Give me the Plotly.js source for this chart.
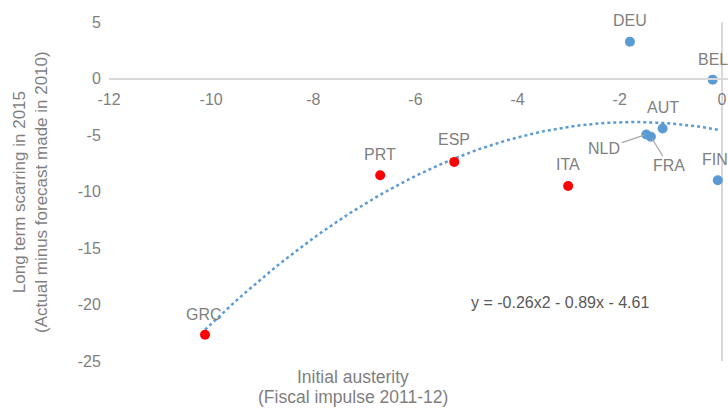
<!DOCTYPE html>
<html>
<head>
<meta charset="utf-8">
<script src="https://cdn.plot.ly/plotly-3.0.1.min.js"></script>
<style>html,body{margin:0;padding:0;background:#fff;}#chart{width:728px;height:408px;}</style>
</head>
<body>
<div id="chart"></div>
<script>
// Core (blue) countries
var blueCountries = ["DEU", "BEL", "AUT", "NLD", "FRA", "FIN"];
var blueX = [-1.80, -0.18, -1.16, -1.48, -1.39, -0.08];
var blueY = [3.25, -0.10, -4.42, -4.95, -5.16, -9.00];

// Periphery (red) countries
var redCountries = ["GRC", "PRT", "ESP", "ITA"];
var redX = [-10.12, -6.69, -5.24, -3.01];
var redY = [-22.67, -8.56, -7.38, -9.51];

// Polynomial trendline as shown on chart: y = a x^2 + b x + c
var trendCoef = [-0.26, -0.89, -4.61];
var trendStartX = -10.12;
var trendEndX = -0.08;
var trendLabel = "y = -0.26x2 - 0.89x - 4.61";

var xTickVals = [-12, -10, -8, -6, -4, -2, 0];
var xTickText = ["-12", "-10", "-8", "-6", "-4", "-2", "0"];
var yTickVals = [5, 0, -5, -10, -15, -20, -25];
var yTickText = ["5", "0", "-5", "-10", "-15", "-20", "-25"];

var xTitleLines = ["Initial austerity", "(Fiscal impulse 2011-12)"];
var yTitle = "Long term scarring in 2015<br>(Actual minus forecast made in 2010)";

var trendX = [], trendY = [];
var nT = 80;
for (var i = 0; i <= nT; i++) {
  var x = trendStartX + (trendEndX - trendStartX) * i / nT;
  trendX.push(x);
  trendY.push(trendCoef[0] * x * x + trendCoef[1] * x + trendCoef[2]);
}

var grey = "#7f7f7f";
var font = "Liberation Sans, Arial, sans-serif";

var traces = [
  {
    x: trendX, y: trendY, mode: "lines", type: "scatter",
    line: {color: "#5b9bd5", width: 2.5, dash: "dot"},
    hoverinfo: "skip", showlegend: false
  },
  {
    x: blueX, y: blueY, mode: "markers", type: "scatter",
    marker: {color: "#5b9bd5", size: 10},
    showlegend: false
  },
  {
    x: redX, y: redY, mode: "markers", type: "scatter",
    marker: {color: "#ff0000", size: 10},
    showlegend: false
  }
];

// label placement (pixel offsets of label centre from the point)
var labelStyle = {
  DEU: {dx: 0, dy: 21}, BEL: {dx: 0, dy: 20}, AUT: {dx: 0, dy: 21},
  NLD: {dx: -42, dy: -14, arrow: true}, FRA: {dx: 18, dy: -29, arrow: true},
  FIN: {dx: -3, dy: 21}, GRC: {dx: -1, dy: 20}, PRT: {dx: 0, dy: 21},
  ESP: {dx: 0, dy: 22}, ITA: {dx: 0, dy: 21}
};

var annotations = [];
function addLabels(names, xs, ys) {
  names.forEach(function (c, i) {
    var s = labelStyle[c];
    var a = {
      x: xs[i], y: ys[i], xref: "x", yref: "y", text: c,
      xanchor: "center", yanchor: "middle",
      font: {family: font, size: 16, color: grey}
    };
    if (s.arrow) {
      a.showarrow = true; a.arrowhead = 0; a.arrowwidth = 1.2; a.arrowcolor = "#a6a6a6";
      a.ax = s.dx; a.ay = -s.dy; a.standoff = 2;
    } else {
      a.showarrow = false; a.xshift = s.dx; a.yshift = s.dy;
    }
    annotations.push(a);
  });
}
addLabels(blueCountries, blueX, blueY);
addLabels(redCountries, redX, redY);

annotations.push({
  xref: "paper", yref: "paper", x: 0.729, y: 0.174, xanchor: "center", yanchor: "middle",
  showarrow: false, text: trendLabel, font: {family: font, size: 16, color: "#595959"}
});
var xTitleY = [-0.047, -0.107];
xTitleLines.forEach(function (t, i) {
  annotations.push({
    xref: "paper", yref: "paper", x: 0.394, y: xTitleY[i], xanchor: "center", yanchor: "middle",
    showarrow: false, text: t, font: {family: font, size: 17.5, color: grey}
  });
});
annotations.push({
  xref: "paper", yref: "paper", x: -0.127, y: 0.5, xanchor: "center", yanchor: "middle",
  showarrow: false, textangle: -90, text: yTitle,
  font: {family: font, size: 17, color: grey}, align: "center"
});

var layout = {
  width: 728, height: 408,
  margin: {l: 109, r: 0, t: 22, b: 47},
  paper_bgcolor: "#ffffff", plot_bgcolor: "#ffffff",
  font: {family: font, color: grey},
  xaxis: {
    range: [-12, 0.12], tickvals: xTickVals, ticktext: xTickText,
    showgrid: false, zeroline: true, zerolinecolor: "#d9d9d9", zerolinewidth: 2,
    showline: true, linecolor: "#d9d9d9", linewidth: 2,
    anchor: "free", position: 25 / 30,
    ticks: "outside", ticklen: 6, tickcolor: "rgba(0,0,0,0)",
    tickfont: {family: font, size: 16, color: grey}
  },
  yaxis: {
    range: [-25, 5], tickvals: yTickVals, ticktext: yTickText,
    showgrid: false, zeroline: false, showline: false,
    ticks: "outside", ticklen: 4, tickcolor: "rgba(0,0,0,0)",
    tickfont: {family: font, size: 16, color: grey}
  },
  annotations: annotations,
  showlegend: false
};

Plotly.newPlot("chart", traces, layout, {displayModeBar: false, staticPlot: true});
</script>
</body>
</html>
